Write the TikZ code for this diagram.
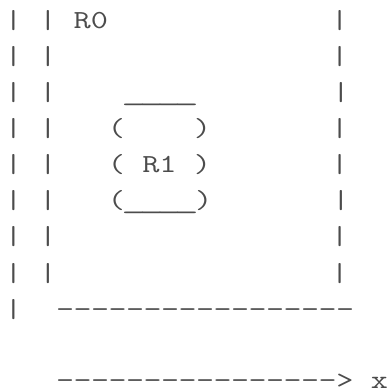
\documentclass[tikz,border=0pt]{standalone}
\begin{document}
\begin{tikzpicture}[x=1pt,y=1pt,
  asciiline/.style={anchor=base west,inner sep=0pt,outer sep=0pt,xscale=1.282,transform shape,
    text=black!70,font=\fontsize{26}{30}\selectfont\ttfamily}]
\useasboundingbox (0,0) rectangle (392,-392);
\def\D{\makebox[0.525em]{\scalebox{1.05}[1]{-}}}
\def\U{\makebox[0.525em]{\scalebox{1.45}[1]{\_}}}
\node[asciiline] (r0) at (5,-28.3) {|~|~R0~~~~~~~~~~~~~|};
\node[asciiline] (r1) at (5,-64.4) {|~|~~~~~~~~~~~~~~~~|};
\node[asciiline] (r2) at (5,-100.5) {|~|~~~~\U\U\U\U~~~~~~~~|};
\node[asciiline] (r3) at (5,-136.6) {|~|~~~(~~~~)~~~~~~~|};
\node[asciiline] (r4) at (5,-172.7) {|~|~~~(~R1~)~~~~~~~|};
\node[asciiline] (r5) at (5,-208.8) {|~|~~~(\U\U\U\U)~~~~~~~|};
\node[asciiline] (r6) at (5,-244.9) {|~|~~~~~~~~~~~~~~~~|};
\node[asciiline] (r7) at (5,-281.0) {|~|~~~~~~~~~~~~~~~~|};
\node[asciiline] (r8) at (5,-317.1) {|~~\D\D\D\D\D\D\D\D\D\D\D\D\D\D\D\D\D};
\node[asciiline] (r10) at (5,-388) {~~~\D\D\D\D\D\D\D\D\D\D\D\D\D\D\D\D>~x};
\end{tikzpicture}
\end{document}
